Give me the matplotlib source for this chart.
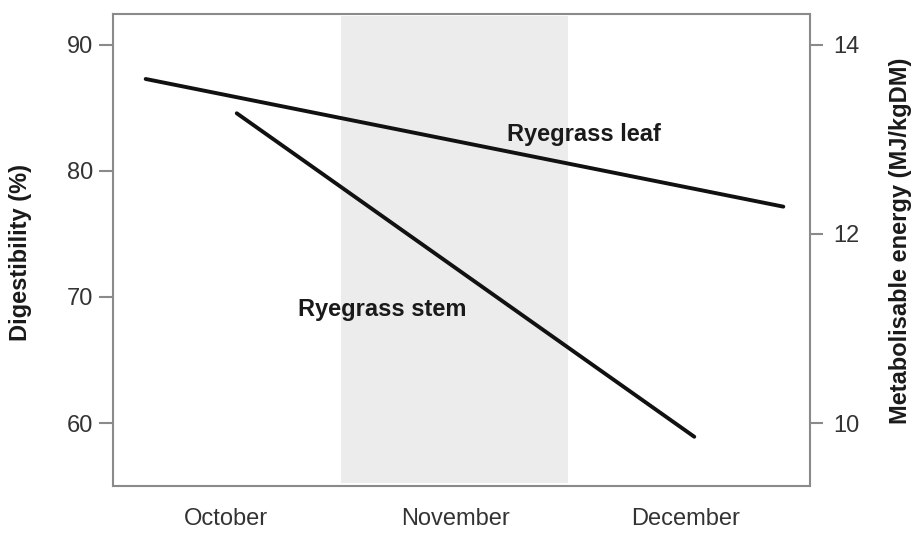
import matplotlib.pyplot as plt

# month positions on the x axis (October = 0)
months = ["October", "November", "December"]
month_pos = [0, 1, 2]

# digestibility lines (x in month units, y in %)
leaf_x = [-0.348, 2.424]
leaf_y = [87.27, 77.15]
stem_x = [0.048, 2.037]
stem_y = [84.55, 58.91]

# shaded month (November)
shade_span = [0.5, 1.49]

left_ticks = [60, 70, 80, 90]
right_ticks = [10, 12, 14]


def dig_to_me(v):
    # 60 % <-> 10 MJ, 90 % <-> 14 MJ
    return 10 + (v - 60) * 4 / 30


plt.rcParams["font.family"] = ["Liberation Sans", "DejaVu Sans"]
GREY = "#8a8a8a"
TXT = "#333333"

fig = plt.figure(figsize=(9.12, 5.33), dpi=100)
ax = fig.add_axes([113 / 912, 1 - 485.7 / 533, 697 / 912, 472.2 / 533])

ax.axvspan(shade_span[0], shade_span[1], ymin=0.005, ymax=0.995, color="#ececec", lw=0, zorder=0)
ax.plot(leaf_x, leaf_y, color="#111111", lw=2.8, solid_capstyle="round")
ax.plot(stem_x, stem_y, color="#111111", lw=2.8, solid_capstyle="round")

ax.text(1.558, 82.83, "Ryegrass leaf", ha="center", va="center", fontsize=17,
        fontweight="bold", color="#1a1a1a")
ax.text(0.68, 68.96, "Ryegrass stem", ha="center", va="center", fontsize=17,
        fontweight="bold", color="#1a1a1a")

ax.set_xlim(-0.49, 2.54)
ax.set_ylim(55.03, 92.46)
ax.set_xticks(month_pos)
ax.set_xticklabels(months)
ax.tick_params(axis="x", length=0, pad=16, labelsize=17, labelcolor=TXT)
ax.set_yticks(left_ticks)
ax.tick_params(axis="y", direction="out", length=10, width=1.5, color=GREY,
               pad=4, labelsize=17, labelcolor=TXT)
for s in ax.spines.values():
    s.set_color(GREY)
    s.set_linewidth(1.5)
ax.set_ylabel("Digestibility (%)", fontsize=17, fontweight="bold", color="#1a1a1a")
ax.yaxis.set_label_coords(-0.116, 0.493)

ax2 = ax.twinx()
lo, hi = ax.get_ylim()
ax2.set_ylim(dig_to_me(lo), dig_to_me(hi))
ax2.set_yticks(right_ticks)
ax2.tick_params(axis="y", direction="out", length=9, width=1.5, color=GREY,
                pad=8, labelsize=17, labelcolor=TXT)
for s in ax2.spines.values():
    s.set_visible(False)
ax2.set_ylabel("Metabolisable energy (MJ/kgDM)", fontsize=17, fontweight="bold",
               color="#1a1a1a")
ax2.yaxis.set_label_coords(1.113, 0.518)

fig.savefig("out.png", dpi=100)
